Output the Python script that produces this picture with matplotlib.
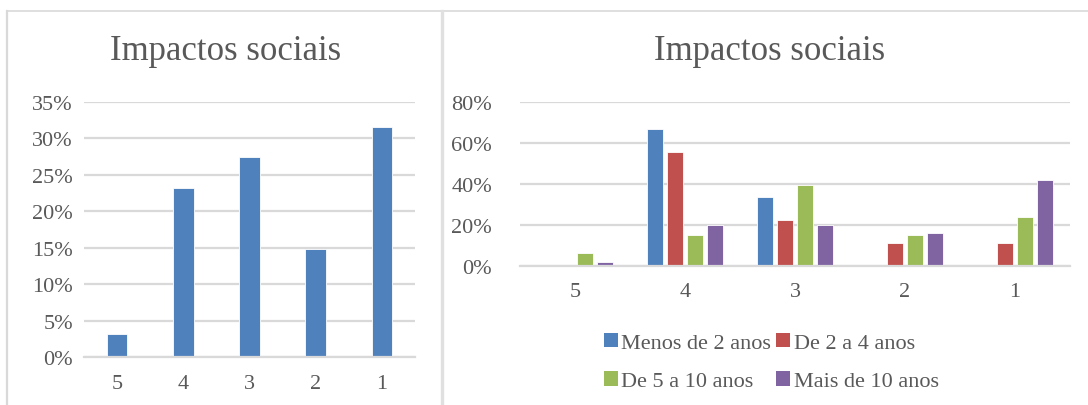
import matplotlib.pyplot as plt
import numpy as np
from matplotlib.lines import Line2D
from matplotlib.patches import Patch

# Data
categories = ['5', '4', '3', '2', '1']
total = [0.032, 0.232, 0.274, 0.148, 0.316]

series_names = ['Menos de 2 anos', 'De 2 a 4 anos', 'De 5 a 10 anos', 'Mais de 10 anos']
menos_2 = [0.0, 0.667, 0.333, 0.0, 0.0]
de_2_4 = [0.0, 0.556, 0.222, 0.111, 0.111]
de_5_10 = [0.06, 0.15, 0.394, 0.15, 0.24]
mais_10 = [0.02, 0.20, 0.20, 0.16, 0.42]

colors = ['#4F81BD', '#C0504D', '#9BBB59', '#8064A2']
text_color = '#595959'
grid_color = '#D9D9D9'

plt.rcParams['font.family'] = ['Liberation Serif', 'DejaVu Serif']

W, H = 1088, 406
fig = plt.figure(figsize=(W / 100, H / 100), dpi=100)


def px_axes(x0, y0, x1, y1):
    # pixel box (top-left origin) -> figure fraction axes
    return fig.add_axes([x0 / W, 1 - y1 / H, (x1 - x0) / W, (y1 - y0) / H])


def style_axes(ax, ymax, step):
    ax.set_ylim(0, ymax)
    ticks = np.arange(0, ymax + step / 2, step)
    ax.set_yticks(ticks)
    ax.set_yticklabels([f'{round(t * 100)}%' for t in ticks])
    ax.grid(axis='y', color=grid_color, linewidth=1.6)
    ax.set_axisbelow(True)
    for s in ['top', 'right', 'left']:
        ax.spines[s].set_visible(False)
    ax.spines['bottom'].set_color(grid_color)
    ax.spines['bottom'].set_linewidth(1.6)
    ax.tick_params(length=0, labelsize=16, colors=text_color)
    ax.tick_params(axis='x', pad=12)


x = np.arange(len(categories))

# Left chart
ax1 = px_axes(84, 103, 415, 358)
ax1.bar(x, total, width=0.31, color=colors[0], edgecolor='white', linewidth=0.6)
ax1.set_xlim(-0.5, len(categories) - 0.5)
ax1.set_xticks(x)
ax1.set_xticklabels(categories)
style_axes(ax1, 0.35, 0.05)
ax1.tick_params(axis='y', pad=8)
fig.text(226 / W, 1 - 52 / H, 'Impactos sociais', ha='center', va='center',
         fontsize=25, color=text_color)

# Right chart
ax2 = px_axes(520, 102.7, 1070, 266.7)
groups = [menos_2, de_2_4, de_5_10, mais_10]
bw = 0.14
step = 0.182
for i, (vals, c) in enumerate(zip(groups, colors)):
    ax2.bar(x + (i - 1.5) * step, vals, width=bw, color=c, edgecolor='white',
            linewidth=0.6)
ax2.set_xlim(-0.5, len(categories) - 0.5)
ax2.set_xticks(x)
ax2.set_xticklabels(categories)
style_axes(ax2, 0.8, 0.2)
ax2.tick_params(axis='y', pad=20)
fig.text(770 / W, 1 - 52 / H, 'Impactos sociais', ha='center', va='center',
         fontsize=25, color=text_color)

# legend fills column-wise, so reorder to get rows: (0, 1), (2, 3)
order = [0, 2, 1, 3]
handles = [Patch(facecolor=colors[i], edgecolor='none') for i in order]
labels = [series_names[i] for i in order]
fig.legend(handles, labels, loc='upper left', ncol=2,
           bbox_to_anchor=(595 / W, 1 - 325 / H), frameon=False,
           fontsize=16, labelcolor=text_color, handlelength=0.62,
           handleheight=0.62, handletextpad=0.15, columnspacing=0.25,
           labelspacing=0.82, borderaxespad=0)

# Panel borders
border = '#D9D9D9'
fig.add_artist(Line2D([7 / W, 1], [1 - 12 / H, 1 - 12 / H], color=border, lw=1.2))
fig.add_artist(Line2D([7 / W, 7 / W], [0, 1 - 12 / H], color=border, lw=1.6))
fig.add_artist(Line2D([442 / W, 442 / W], [0, 1 - 12 / H], color='#E0E0E0', lw=2.4))

fig.savefig('out.png', dpi=100)
